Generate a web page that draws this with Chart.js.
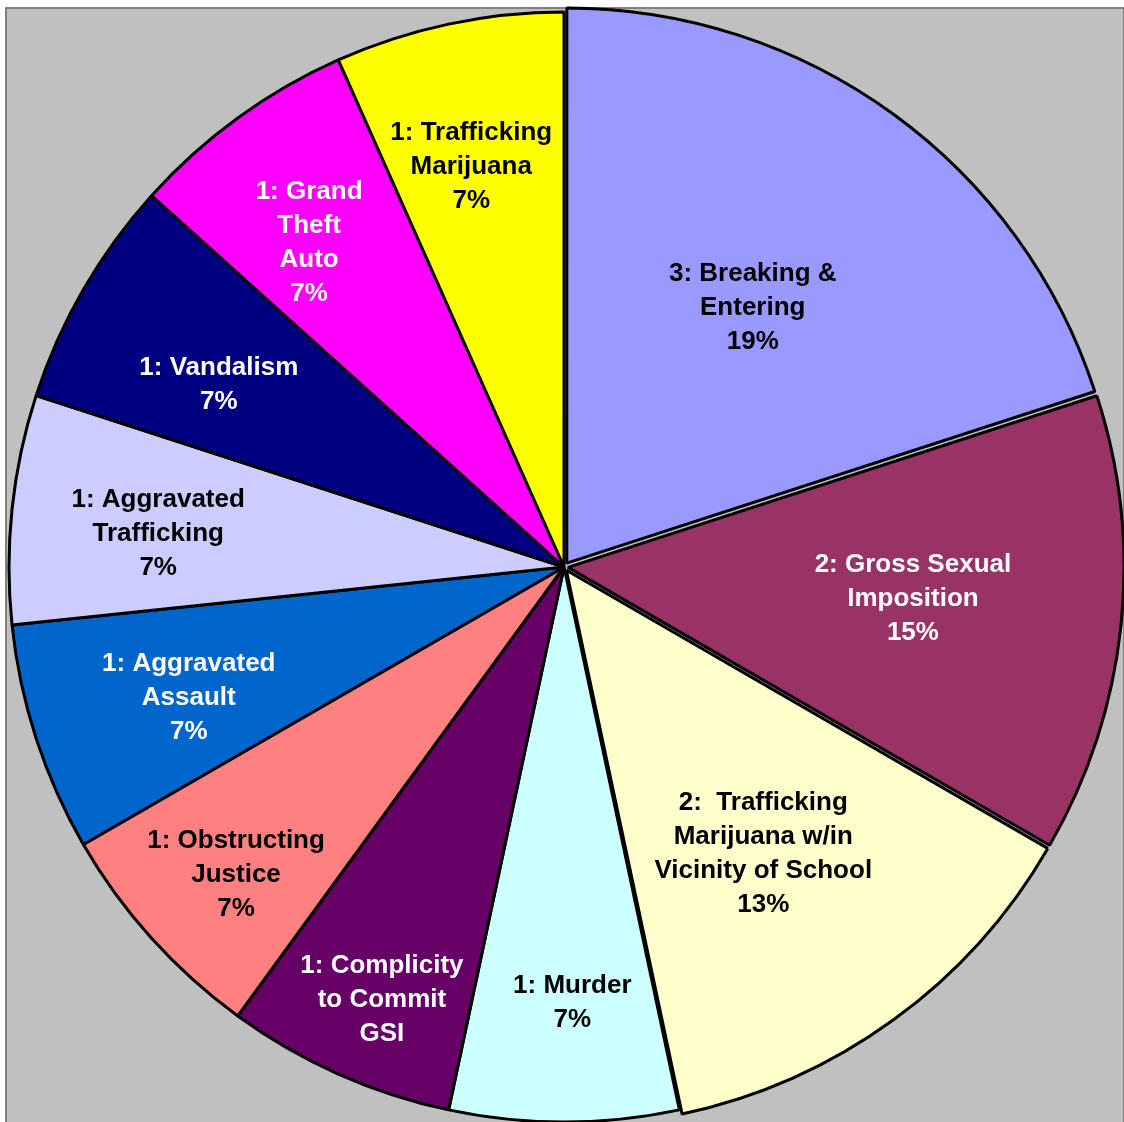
<!DOCTYPE html>
<html>
<head>
<meta charset="utf-8">
<script src="https://cdn.jsdelivr.net/npm/chart.js@4/dist/chart.umd.min.js"></script>
<style>
  html, body { margin: 0; padding: 0; background: #fff; }
  #wrap { position: relative; width: 1124px; height: 1122px; overflow: hidden; }
  #plotbg { position: absolute; left: 5px; top: 7px; width: 1116px; height: 1130px;
            background: #c0c0c0; border: 2px solid #808080; }
  #chart { position: absolute; left: 0; top: 0; }
</style>
</head>
<body>
<div id="wrap">
  <div id="plotbg"></div>
  <canvas id="chart" width="1124" height="1122"></canvas>
</div>
<script>
// dados (sentido horário a partir do topo)
const categorias = [
  ["3: Breaking &", "Entering"],
  ["2: Gross Sexual", "Imposition"],
  ["2:  Trafficking", "Marijuana w/in", "Vicinity of School"],
  ["1: Murder"],
  ["1: Complicity", "to Commit", "GSI"],
  ["1: Obstructing", "Justice"],
  ["1: Aggravated", "Assault"],
  ["1: Aggravated", "Trafficking"],
  ["1: Vandalism"],
  ["1: Grand", "Theft", "Auto"],
  ["1: Trafficking", "Marijuana"]
];
const contagens = [3, 2, 2, 1, 1, 1, 1, 1, 1, 1, 1];
const percentuais = ["19%", "15%", "13%", "7%", "", "7%", "7%", "7%", "7%", "7%", "7%"];

const cores = ["#9999FF", "#993366", "#FFFFCC", "#CCFFFF", "#660066", "#FF8080",
               "#0066CC", "#CCCCFF", "#000080", "#FF00FF", "#FFFF00"];
const corTexto = ["#000", "#fff", "#000", "#000", "#fff", "#000", "#fff", "#000", "#fff", "#fff", "#000"];
// chart.js divide o offset por 4 (e mais um pouco nas fatias pequenas)
const deslocamento = [19, 16, 16, 0, 0, 0, 0, 0, 0, 0, 0];
// posição dos rótulos: fração do raio e ajuste do ângulo (graus)
const raioRotulo = [0.580, 0.631, 0.626, 0.782, 0.843, 0.808, 0.715, 0.734, 0.705, 0.746, 0.743];
const ajusteAngulo = [-0.1, -1.1, 1.0, -1.1, -1.1, -1.0, -1.0, -1.0, -1.9, -2.0, -1.0];

const rotulosPlugin = {
  id: "rotulos",
  afterDatasetsDraw(chart) {
    const ctx = chart.ctx;
    const meta = chart.getDatasetMeta(0);
    ctx.save();
    ctx.font = "bold 26px 'Liberation Sans', Arial, sans-serif";
    ctx.textAlign = "center";
    ctx.textBaseline = "middle";
    meta.data.forEach((arc, i) => {
      const p = arc.getProps(["x", "y", "startAngle", "endAngle", "outerRadius"], true);
      const mid = (p.startAngle + p.endAngle) / 2 + ajusteAngulo[i] * Math.PI / 180;
      const r = p.outerRadius * raioRotulo[i];
      const cx = p.x + Math.cos(mid) * r;
      const cy = p.y + Math.sin(mid) * r + 2;
      const linhas = categorias[i].slice();
      if (percentuais[i]) linhas.push(percentuais[i]);
      const lh = 34;
      const y0 = cy - (linhas.length - 1) * lh / 2;
      ctx.fillStyle = corTexto[i];
      linhas.forEach((t, k) => ctx.fillText(t, cx, y0 + k * lh));
    });
    ctx.restore();
  }
};

new Chart(document.getElementById("chart"), {
  type: "pie",
  data: {
    labels: categorias.map(c => c.join(" ")),
    datasets: [{
      data: contagens,
      backgroundColor: cores,
      borderColor: "#000",
      borderWidth: 3,
      offset: deslocamento,
      radius: 555
    }]
  },
  options: {
    responsive: false,
    animation: false,
    events: [],
    layout: { padding: { left: 4, right: 0, top: 12, bottom: 0 } },
    plugins: { legend: { display: false }, tooltip: { enabled: false } }
  },
  plugins: [rotulosPlugin]
});
</script>
</body>
</html>
